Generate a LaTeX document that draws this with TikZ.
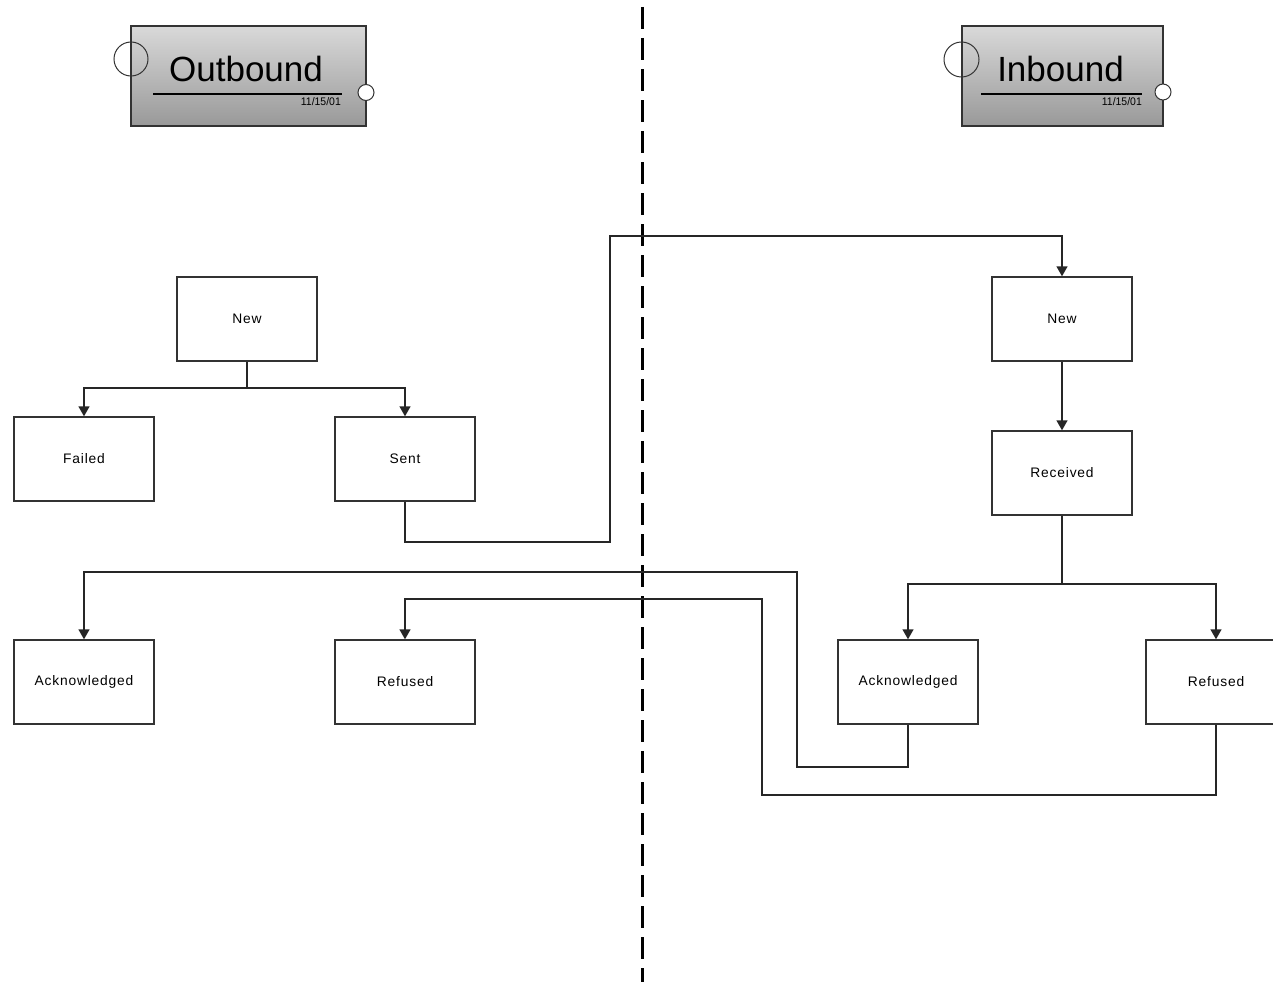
\documentclass[tikz,border=0pt]{standalone}
\usepackage{fontspec}
\setmainfont{Liberation Sans}
\newfontfamily\lblfont[LetterSpace=6]{Liberation Sans}
\usetikzlibrary{arrows.meta}
\tikzset{
  statebox/.style={draw=black!80, line width=1.4pt, fill=white, minimum width=140pt, minimum height=84pt, inner sep=0pt, font=\lblfont\fontsize{13.8}{15}\selectfont},
  conn/.style={draw=black!85, line width=1.4pt},
  arr/.style={conn, -{Triangle[length=10pt,width=11pt]}},
  pkg/.style={draw=black!80, line width=1.4pt, top color=black!15, bottom color=black!40},
  port/.style={draw=black!80, line width=1pt},
  title/.style={font=\fontsize{35}{40}\selectfont, anchor=base, inner sep=0pt},
  date/.style={font=\fontsize{11}{12}\selectfont, anchor=base east, inner sep=0pt, xscale=0.95},
}
\begin{document}
\begin{tikzpicture}[x=1pt, y=-1pt]
\useasboundingbox (0,0) rectangle (1273,982);
% divider
\coordinate (dtop) at (642.5,7);
\coordinate (dbot) at (642.5,982);
\draw[line width=3pt, dash pattern=on 22pt off 9pt] (dtop) -- (dbot);

% Outbound package
\path[pkg] (131,26) rectangle (366,126);
\draw[port] (131,59) circle (17);
\draw[port, fill=white] (366,92.5) circle (8);
\draw[line width=1.2pt] (153,94) -- (342,94);
\node[title] (outT) at (246,81.5) {Outbound};
\node[date] (outD) at (341,105.5) {11/15/01};

% Inbound package
\path[pkg] (962,26) rectangle (1163,126);
\draw[port] (961.5,59.5) circle (17.5);
\draw[port, fill=white] (1163,92) circle (8);
\draw[line width=1.2pt] (981,94) -- (1142,94);
\node[title] (inT) at (1060.5,81.5) {Inbound};
\node[date] (inD) at (1142,105.5) {11/15/01};

% state boxes
\node[statebox] (newL) at (247,319) {New};
\node[statebox] (failed) at (84,459) {Failed};
\node[statebox] (sent) at (405,459) {Sent};
\node[statebox] (ackL) at (84,682) {Acknowledged};
\node[statebox] (refL) at (405,682) {Refused};
\node[statebox] (newR) at (1062,319) {New};
\node[statebox] (recv) at (1062,473) {Received};
\node[statebox] (ackR) at (908,682) {Acknowledged};
\node[statebox] (refR) at (1216,682) {Refused};

% connectors
\draw[conn] (newL.south) -- (247,388);
\draw[arr] (247,388) -| (failed.north);
\draw[arr] (247,388) -| (sent.north);

\draw[arr] (sent.south) -- (405,542) -- (610,542) -- (610,236) -| (newR.north);
\draw[arr] (newR.south) -- (recv.north);

\draw[conn] (recv.south) -- (1062,584);
\draw[arr] (1062,584) -| (ackR.north);
\draw[arr] (1062,584) -| (refR.north);

\draw[arr] (ackR.south) -- (908,767) -- (797,767) -- (797,572) -| (ackL.north);
\draw[arr] (refR.south) -- (1216,795) -- (762,795) -- (762,599) -| (refL.north);
\end{tikzpicture}
\end{document}
